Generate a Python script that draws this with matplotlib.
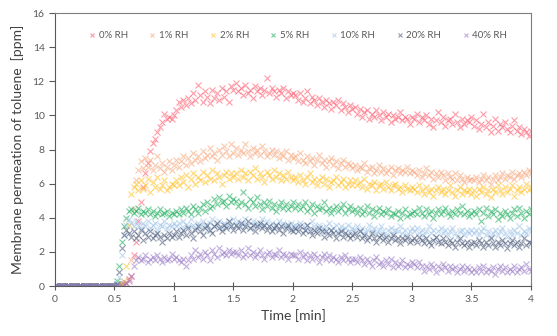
#!/usr/bin/env python3
import numpy as np
import matplotlib
matplotlib.use('Agg')
import matplotlib.pyplot as plt

plt.rcParams['font.family'] = ['Lato', 'DejaVu Sans']

time_step = 0.02  # min between samples
n_baseline = 26   # samples from 0 to 0.50 min, all zero

labels = ['0% RH', '1% RH', '2% RH', '5% RH', '10% RH', '20% RH', '40% RH']
colors = ['#FF5A6E', '#F8A67C', '#FFBF1F', '#1DAE5C', '#9FC4E8', '#4A5878', '#9A7CC6']

# values from 0.52 min to 4.00 min, one row per half minute
rh0 = [
    0.0, 0.0, 0.1, 0.1, 0.2, 0.4, 0.6, 1.8, 2.6, 3.8, 4.9, 5.8, 6.6, 7.2, 7.9, 8.4, 8.6, 9.0, 9.3, 9.6, 10.1, 9.8, 9.9, 9.8, 10.0,
    10.3, 10.8, 10.5, 10.9, 10.6, 11.0, 10.7, 11.3, 10.9, 11.8, 11.2, 10.8, 11.4, 11.1, 10.7, 11.5, 11.0, 11.3, 10.9, 11.6, 11.1, 11.4, 10.8, 11.7, 11.5,
    11.9, 11.4, 11.6, 11.2, 11.8, 11.3, 11.5, 11.0, 11.7, 11.4, 11.6, 11.2, 11.5, 12.2, 11.3, 11.6, 11.4, 11.1, 11.5, 11.3, 11.6, 11.0, 11.4, 11.2, 11.3,
    11.2, 10.9, 11.3, 10.8, 11.0, 11.4, 10.7, 11.1, 10.9, 10.6, 11.0, 10.8, 10.5, 10.9, 10.7, 10.4, 10.8, 10.6, 10.9, 10.3, 10.7, 10.5, 10.2, 10.6, 10.4,
    10.5, 10.1, 10.4, 9.9, 10.2, 10.3, 9.8, 10.1, 9.9, 10.3, 10.0, 9.7, 10.2, 9.9, 10.1, 9.6, 10.0, 9.8, 9.9, 10.2, 9.7, 9.9, 9.8, 9.5, 9.9,
    9.8, 10.1, 9.6, 9.9, 9.7, 10.0, 9.5, 9.8, 9.3, 9.7, 10.2, 9.6, 9.9, 9.4, 9.7, 9.8, 9.5, 10.1, 9.6, 9.3, 9.8, 9.5, 9.7, 9.6, 9.9,
    9.4, 9.7, 9.2, 9.5, 10.1, 9.3, 9.6, 9.0, 9.4, 9.8, 9.1, 9.5, 9.3, 9.6, 9.2, 9.0, 9.4, 9.7, 9.1, 9.3, 8.9, 9.2, 9.0, 8.8, 9.1,
]
rh1 = [
    0.0, 0.0, 0.0, 0.1, 0.2, 0.4, 1.5, 4.5, 6.2, 6.8, 7.3, 6.9, 7.5, 7.0, 7.4, 6.8, 7.1, 7.6, 6.9, 7.2, 6.7, 7.0, 7.3, 6.8, 7.1,
    7.4, 7.0, 7.3, 7.6, 7.1, 7.5, 7.2, 7.8, 7.4, 7.6, 7.3, 7.9, 7.5, 7.7, 8.1, 7.6, 7.8, 7.4, 8.0, 7.7, 8.2, 7.9, 7.6, 8.3, 7.8,
    8.1, 7.7, 8.0, 7.8, 8.3, 7.9, 7.6, 8.1, 7.8, 8.0, 7.7, 8.2, 7.9, 7.6, 7.8, 8.0, 7.7, 7.9, 7.5, 7.8, 7.6, 7.9, 7.4, 7.7, 7.5,
    7.6, 7.3, 7.8, 7.4, 7.2, 7.6, 7.3, 7.5, 7.1, 7.4, 7.7, 7.2, 7.4, 7.0, 7.3, 7.5, 7.1, 7.3, 6.9, 7.2, 7.4, 7.0, 7.2, 7.1, 6.9,
    7.1, 6.8, 7.0, 6.9, 7.2, 6.7, 6.9, 7.0, 6.6, 6.8, 7.1, 6.7, 6.9, 6.6, 6.8, 7.0, 6.5, 6.8, 6.9, 6.6, 6.8, 6.7, 7.0, 6.6, 6.8,
    6.7, 6.5, 6.8, 6.4, 6.6, 6.9, 6.5, 6.7, 6.3, 6.6, 6.4, 6.7, 6.5, 6.2, 6.6, 6.4, 6.3, 6.6, 6.2, 6.5, 6.3, 6.1, 6.4, 6.2, 6.3,
    6.2, 6.4, 6.1, 6.3, 6.5, 6.2, 6.4, 6.0, 6.3, 6.5, 6.2, 6.4, 6.6, 6.3, 6.5, 6.4, 6.7, 6.3, 6.5, 6.6, 6.4, 6.7, 6.5, 6.8, 6.6,
]
rh2 = [
    0.0, 0.0, 0.1, 0.3, 1.2, 3.6, 5.4, 5.8, 6.0, 5.6, 6.2, 5.7, 5.9, 6.3, 5.5, 6.1, 5.8, 6.4, 5.7, 5.9, 6.2, 5.6, 5.8, 6.0, 5.9,
    6.2, 5.9, 6.4, 6.1, 6.5, 5.8, 6.3, 6.6, 6.0, 6.4, 6.2, 6.7, 6.1, 6.5, 6.3, 6.8, 6.2, 6.6, 6.4, 6.0, 6.5, 6.7, 6.3, 6.6, 6.4,
    6.6, 6.3, 6.8, 6.4, 6.6, 6.2, 6.7, 6.5, 6.9, 6.3, 6.6, 6.4, 6.1, 6.7, 6.5, 6.3, 6.8, 6.4, 6.6, 6.2, 6.5, 6.3, 6.7, 6.4, 6.2,
    6.4, 6.1, 6.5, 6.2, 6.0, 6.4, 6.6, 6.1, 6.3, 5.9, 6.2, 6.4, 6.0, 6.3, 5.8, 6.1, 6.2, 6.4, 5.9, 6.1, 6.3, 5.8, 6.0, 6.2, 5.9,
    6.2, 5.9, 6.1, 5.8, 6.3, 5.7, 6.0, 5.9, 6.1, 5.6, 5.9, 6.0, 5.7, 6.1, 5.8, 5.6, 5.9, 6.0, 5.7, 5.8, 5.5, 5.9, 5.7, 5.6, 5.8,
    5.7, 5.5, 5.9, 5.6, 5.4, 5.8, 5.5, 5.7, 5.3, 5.6, 5.8, 5.5, 5.7, 5.4, 5.6, 5.9, 5.5, 5.3, 5.6, 5.8, 5.4, 5.6, 5.5, 5.7, 5.4,
    5.6, 5.3, 5.7, 5.5, 5.8, 5.4, 5.6, 5.2, 5.7, 5.5, 5.9, 5.6, 5.4, 5.8, 5.5, 5.7, 5.9, 5.3, 5.6, 5.8, 5.5, 5.7, 6.0, 5.6, 5.8,
]
rh5 = [
    0.3, 1.2, 2.6, 3.5, 4.0, 4.4, 4.5, 4.3, 4.4, 4.6, 4.2, 4.4, 4.3, 4.5, 4.2, 4.4, 4.1, 4.3, 4.5, 4.2, 4.3, 4.4, 4.1, 4.3, 4.2,
    4.4, 4.2, 4.5, 4.3, 4.6, 4.4, 4.2, 4.7, 4.5, 4.3, 4.6, 4.8, 4.4, 4.9, 4.6, 4.7, 5.1, 4.8, 5.2, 4.9, 5.0, 4.7, 5.3, 4.9, 5.1,
    5.0, 4.7, 4.9, 5.5, 4.8, 4.6, 5.1, 4.9, 4.7, 5.2, 4.8, 4.5, 4.9, 4.7, 5.0, 4.6, 4.8, 4.4, 4.7, 4.9, 4.6, 4.8, 4.5, 4.7, 4.9,
    4.6, 4.8, 4.5, 4.7, 4.9, 4.4, 4.6, 4.8, 4.3, 4.7, 4.5, 4.6, 4.9, 4.4, 4.6, 4.3, 4.5, 4.7, 4.4, 4.6, 4.8, 4.3, 4.5, 4.7, 4.4,
    4.5, 4.3, 4.6, 4.2, 4.4, 4.7, 4.3, 4.5, 4.1, 4.4, 4.6, 4.2, 4.4, 4.3, 4.5, 4.1, 4.3, 4.2, 4.4, 4.0, 4.3, 4.5, 4.1, 4.2, 4.3,
    4.4, 4.2, 4.6, 4.3, 4.1, 4.5, 4.2, 4.4, 4.0, 4.3, 4.5, 4.2, 4.4, 4.6, 4.3, 4.1, 4.4, 4.2, 4.5, 4.3, 4.7, 4.2, 4.4, 4.1, 4.3,
    4.4, 4.2, 4.5, 3.8, 4.3, 4.6, 4.1, 4.4, 4.2, 4.5, 3.9, 4.3, 4.1, 4.4, 4.2, 4.0, 4.3, 4.5, 4.1, 4.6, 4.3, 4.0, 4.4, 4.2, 4.5,
]
rh10 = [
    0.1, 0.5, 1.8, 3.0, 3.6, 3.9, 3.7, 3.5, 3.8, 3.6, 3.4, 3.7, 3.5, 3.8, 3.4, 3.6, 3.7, 3.3, 3.6, 3.5, 3.8, 3.4, 3.6, 3.5, 3.7,
    3.5, 3.7, 3.4, 3.8, 3.6, 3.5, 3.9, 3.6, 3.4, 3.7, 3.5, 3.8, 3.6, 3.3, 3.7, 3.9, 3.5, 3.6, 3.8, 3.4, 3.7, 3.5, 3.8, 3.6, 3.9,
    3.6, 3.8, 3.5, 3.7, 3.9, 3.6, 3.4, 3.8, 3.6, 3.7, 3.5, 3.9, 3.6, 3.8, 3.5, 3.7, 3.4, 3.6, 3.8, 3.5, 3.7, 3.6, 3.4, 3.7, 3.5,
    3.6, 3.4, 3.7, 3.5, 3.3, 3.6, 3.4, 3.8, 3.5, 3.3, 3.6, 3.4, 3.2, 3.5, 3.7, 3.3, 3.4, 3.6, 3.2, 3.5, 3.3, 3.4, 3.6, 3.2, 3.4,
    3.3, 3.5, 3.2, 3.4, 3.1, 3.3, 3.6, 3.2, 3.4, 3.1, 3.3, 3.5, 3.2, 3.0, 3.3, 3.4, 3.1, 3.3, 3.2, 3.5, 3.1, 3.3, 3.0, 3.2, 3.4,
    3.2, 3.4, 3.1, 3.3, 3.0, 3.2, 3.5, 3.1, 3.3, 2.9, 3.2, 3.4, 3.1, 3.3, 3.0, 3.2, 3.4, 3.1, 2.9, 3.2, 3.3, 3.0, 3.2, 3.1, 3.3,
    3.1, 3.3, 3.0, 3.2, 3.4, 3.0, 3.2, 2.9, 3.1, 3.3, 3.0, 3.2, 3.4, 3.1, 2.9, 3.2, 3.0, 3.3, 3.1, 3.5, 3.0, 3.2, 3.1, 3.4, 3.2,
]
rh20 = [
    0.1, 0.8, 2.2, 3.0, 3.3, 3.1, 2.9, 3.2, 2.8, 3.0, 3.3, 2.7, 3.1, 2.9, 3.2, 2.8, 3.0, 3.1, 2.9, 2.6, 3.0, 2.8, 3.1, 2.9, 3.0,
    3.2, 2.9, 3.1, 3.3, 3.0, 3.4, 3.1, 2.8, 3.3, 3.5, 3.2, 3.0, 3.4, 3.6, 3.3, 3.1, 3.5, 3.7, 3.4, 3.2, 3.6, 3.4, 3.8, 3.5, 3.3,
    3.6, 3.4, 3.7, 3.3, 3.5, 3.8, 3.4, 3.6, 3.2, 3.5, 3.7, 3.4, 3.6, 3.3, 3.5, 3.2, 3.4, 3.6, 3.3, 3.5, 3.1, 3.4, 3.6, 3.3, 3.2,
    3.4, 3.2, 3.5, 3.1, 3.3, 3.6, 3.2, 3.0, 3.3, 3.1, 3.4, 3.2, 2.9, 3.2, 3.0, 3.3, 3.1, 2.8, 3.1, 3.2, 2.9, 3.1, 3.0, 2.8, 3.0,
    3.1, 2.9, 3.2, 2.8, 3.0, 2.7, 2.9, 3.1, 2.8, 2.6, 2.9, 3.0, 2.7, 2.9, 2.6, 2.8, 3.0, 2.7, 2.8, 2.5, 2.8, 2.7, 2.9, 2.6, 2.7,
    2.8, 2.6, 2.9, 2.7, 2.5, 2.8, 2.6, 2.4, 2.7, 2.9, 2.6, 2.5, 2.8, 2.6, 2.4, 2.7, 2.5, 2.3, 2.6, 2.8, 2.5, 2.4, 2.6, 2.3, 2.5,
    2.6, 2.4, 2.7, 2.5, 2.3, 2.6, 2.4, 2.8, 2.5, 2.3, 2.6, 2.4, 2.7, 2.5, 2.2, 2.5, 2.7, 2.4, 2.6, 2.3, 2.5, 2.8, 2.4, 2.6, 2.5,
]
rh40 = [
    0.0, 0.0, 0.0, 0.1, 0.2, 0.3, 0.6, 1.2, 1.5, 1.7, 1.5, 1.6, 1.8, 1.4, 1.6, 1.7, 1.5, 1.8, 1.6, 1.4, 1.7, 1.5, 1.6, 1.9, 1.6,
    1.7, 1.5, 1.4, 1.6, 1.2, 1.5, 1.8, 1.6, 2.1, 1.7, 1.9, 1.6, 2.0, 1.8, 1.5, 2.1, 1.9, 1.7, 2.2, 1.9, 2.0, 1.8, 2.1, 1.9, 2.0,
    2.0, 1.8, 2.1, 1.7, 1.9, 2.2, 1.8, 2.0, 1.7, 1.9, 2.1, 1.8, 1.6, 1.9, 2.0, 1.7, 1.9, 1.8, 2.1, 1.7, 1.9, 1.8, 1.6, 1.9, 1.8,
    1.8, 1.6, 2.0, 1.7, 1.9, 1.5, 1.8, 1.6, 1.9, 1.7, 1.4, 1.7, 1.9, 1.6, 1.8, 1.5, 1.7, 1.6, 1.4, 1.7, 1.5, 1.8, 1.6, 1.4, 1.6,
    1.6, 1.4, 1.7, 1.5, 1.3, 1.6, 1.4, 1.2, 1.5, 1.7, 1.3, 1.4, 1.2, 1.5, 1.3, 1.6, 1.1, 1.4, 1.2, 1.3, 1.5, 1.1, 1.3, 1.2, 1.4,
    1.3, 1.1, 1.4, 1.2, 0.9, 1.2, 1.0, 1.3, 1.1, 0.8, 1.2, 1.0, 1.3, 1.1, 0.9, 1.2, 1.0, 1.1, 0.8, 1.0, 1.2, 0.9, 1.1, 1.0, 0.8,
    1.0, 0.8, 1.1, 0.9, 1.2, 0.8, 1.0, 0.9, 1.1, 0.7, 1.0, 1.2, 0.9, 1.1, 0.8, 1.0, 0.9, 1.2, 0.8, 1.0, 1.1, 0.9, 1.3, 1.0, 0.9,
]

series = [rh0, rh1, rh2, rh5, rh10, rh20, rh40]


def main():
    fig = plt.figure(figsize=(5.57, 3.36), dpi=100)
    ax = fig.add_axes([0.0987, 0.1488, 0.8546, 0.8125])

    for vals, lab, col in zip(series, labels, colors):
        y = np.array([0.0] * n_baseline + vals)
        t = np.arange(len(y)) * time_step
        ax.plot(t, y, linestyle='none', marker='x', markersize=3.8,
                markeredgewidth=0.8, color=col, alpha=0.6, label=lab)

    ax.set_xlim(0, 4)
    ax.set_ylim(0, 16)
    ax.set_xticks(np.arange(0, 4.01, 0.5))
    ax.set_xticklabels(['0', '0.5', '1', '1.5', '2', '2.5', '3', '3.5', '4'])
    ax.set_yticks(range(0, 17, 2))

    for s in ax.spines.values():
        s.set_color('#7f7f7f')
        s.set_linewidth(0.8)
    ax.spines['left'].set_color('#595959')
    ax.spines['bottom'].set_color('#595959')
    ax.tick_params(axis='both', labelsize=7.5, labelcolor='#595959',
                   color='#595959', length=4, width=0.8)
    ax.tick_params(axis='x', direction='inout', length=6)

    ax.set_xlabel('Time [min]', fontsize=10, color='#404040', labelpad=4)
    ax.set_ylabel('Membrane permeation of toluene  [ppm]', fontsize=10,
                  color='#404040', labelpad=6)

    leg = ax.legend(loc='upper center', ncol=7, frameon=False, fontsize=7,
                    handlelength=0.8, handletextpad=0.3, columnspacing=2.1,
                    markerscale=0.8, bbox_to_anchor=(0.51, 0.965))
    for txt in leg.get_texts():
        txt.set_color('#595959')

    fig.savefig('out.png', dpi=100)


if __name__ == '__main__':
    main()
